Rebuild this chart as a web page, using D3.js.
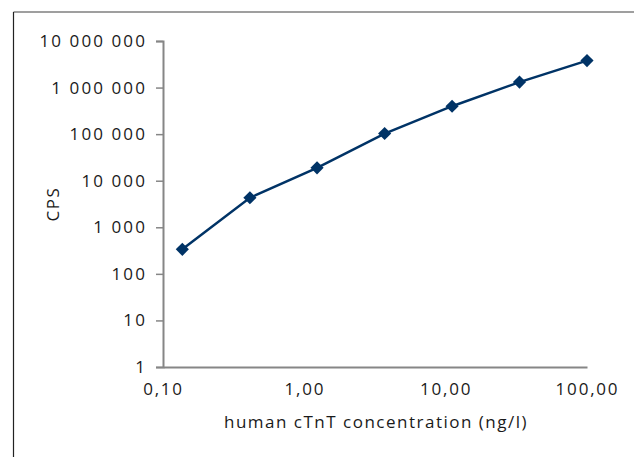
<!DOCTYPE html>
<html>
<head>
<meta charset="utf-8">
<script src="https://cdn.jsdelivr.net/npm/d3@7"></script>
<style>
  body { margin: 0; background: #fff; }
  text { font-family: "Open Sans", sans-serif; fill: #1a1a1a; }
</style>
</head>
<body>
<div id="chart-area"></div>
<script>
// data
var concentration = [0.137, 0.412, 1.23, 3.7, 11.1, 33.3, 100];
var cps = [336, 4300, 18900, 103000, 398000, 1310000, 3800000];
var yTicks = [1, 10, 100, 1000, 10000, 100000, 1000000, 10000000];
var xTicks = [0.1, 1, 10, 100];

var W = 634, H = 457;
var margin = { left: 163, right: 47, top: 41, bottom: 90 };
var fontSize = "17px";

var svg = d3.select("#chart-area").append("svg")
    .attr("width", W)
    .attr("height", H);

// outer frame (left + top only visible)
svg.append("line")
    .attr("x1", 13.5).attr("x2", W).attr("y1", 12).attr("y2", 12)
    .attr("stroke", "#7f7f7f").attr("stroke-width", 1.5);
svg.append("line")
    .attr("x1", 13.5).attr("x2", 13.5).attr("y1", 12).attr("y2", H)
    .attr("stroke", "#222").attr("stroke-width", 1.2);

var x = d3.scaleLog()
    .domain([0.1, 100])
    .range([margin.left, W - margin.right]);

var y = d3.scaleLog()
    .domain([1, 10000000])
    .range([H - margin.bottom, margin.top]);

var fmtY = (d) => d3.format(",")(d).replace(/,/g, " ");
var fmtX = (d) => d.toFixed(2).replace(".", ",");

// y axis
var yAxis = svg.append("g")
    .attr("transform", "translate(" + margin.left + ",0)")
    .call(d3.axisLeft(y).tickValues(yTicks).tickFormat(fmtY).tickSize(7).tickPadding(9));
yAxis.select(".domain").attr("stroke", "#868686").attr("stroke-width", 2);
yAxis.selectAll(".tick line").attr("stroke", "#868686").attr("stroke-width", 1.5);
yAxis.selectAll("text")
    .style("font-size", fontSize)
    .style("letter-spacing", "2.1px")
    .attr("fill", "#1a1a1a");

// x axis
var xAxis = svg.append("g")
    .attr("transform", "translate(0," + (H - margin.bottom) + ")")
    .call(d3.axisBottom(x).tickValues(xTicks).tickFormat(fmtX).tickSize(0).tickPadding(16));
xAxis.select(".domain").attr("stroke", "#868686").attr("stroke-width", 2);
xAxis.selectAll("text")
    .style("font-size", fontSize)
    .style("letter-spacing", "1.8px")
    .attr("fill", "#1a1a1a");

// axis titles
svg.append("text")
    .attr("x", 376)
    .attr("y", 428)
    .attr("text-anchor", "middle")
    .style("font-size", fontSize)
    .style("letter-spacing", "1.5px")
    .text("human cTnT concentration (ng/l)");

svg.append("text")
    .attr("transform", "translate(59,204) rotate(-90)")
    .attr("text-anchor", "middle")
    .style("font-size", fontSize)
    .style("letter-spacing", "1.5px")
    .text("CPS");

var data = concentration.map((c, i) => ({ c: c, v: cps[i] }));

var line = d3.line()
    .x((d) => x(d.c))
    .y((d) => y(d.v));

svg.append("path")
    .datum(data)
    .attr("fill", "none")
    .attr("stroke", "#003366")
    .attr("stroke-width", 2.5)
    .attr("d", line);

svg.selectAll(".pt")
    .data(data)
    .enter()
    .append("path")
        .attr("class", "pt")
        .attr("transform", (d) => "translate(" + x(d.c) + "," + y(d.v) + ")")
        .attr("d", d3.symbol().type(d3.symbolDiamond2).size(110))
        .attr("fill", "#003366");
</script>
</body>
</html>
